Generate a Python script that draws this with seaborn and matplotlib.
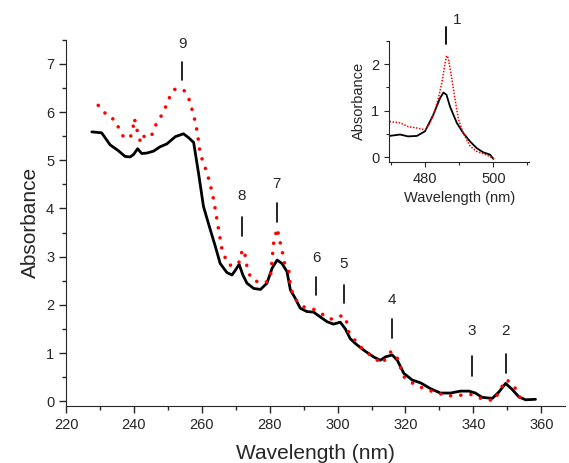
import seaborn as sns
import matplotlib.pyplot as plt
from matplotlib.ticker import MultipleLocator
import pandas as pd

# main spectrum, black (solid)
black_wl = [227.6, 230.5, 233.0, 235.4, 237.4, 238.9, 239.9, 241.1, 242.3, 243.8, 245.8, 247.7,
            249.7, 252.2, 254.6, 256.1, 257.6, 259.0, 260.5, 262.5, 264.0, 265.4, 267.4, 268.9,
            269.9, 271.0, 272.1, 273.3, 275.3, 277.3, 279.2, 280.7, 282.2, 283.6, 285.1, 286.1,
            287.5, 289.0, 291.0, 292.9, 294.9, 296.9, 298.8, 300.8, 302.3, 303.7, 305.2, 307.7,
            310.6, 312.6, 314.1, 316.1, 317.6, 319.5, 322.0, 324.5, 327.4, 330.3, 333.3, 336.2,
            338.7, 340.6, 342.6, 345.6, 347.5, 349.5, 351.5, 353.4, 355.4, 358.3]
black_abs = [5.59, 5.57, 5.32, 5.20, 5.08, 5.07, 5.12, 5.24, 5.14, 5.15, 5.19, 5.28,
             5.34, 5.49, 5.55, 5.47, 5.37, 4.75, 4.04, 3.56, 3.21, 2.86, 2.67, 2.62,
             2.72, 2.84, 2.62, 2.45, 2.34, 2.32, 2.45, 2.76, 2.93, 2.86, 2.69, 2.31,
             2.14, 1.93, 1.86, 1.85, 1.75, 1.65, 1.60, 1.64, 1.50, 1.30, 1.20, 1.06,
             0.92, 0.85, 0.92, 0.96, 0.85, 0.58, 0.44, 0.38, 0.26, 0.17, 0.17, 0.21,
             0.21, 0.17, 0.08, 0.06, 0.19, 0.37, 0.24, 0.09, 0.03, 0.04]

# main spectrum, red (dotted)
red_wl = [229.5, 231.5, 232.8, 234.3, 235.4, 236.9, 238.9, 239.7, 240.1, 240.6, 241.3, 242.1,
          243.3, 244.3, 245.3, 246.5, 247.7, 248.7, 249.7, 250.7, 251.9, 253.8, 255.1, 256.4,
          257.3, 258.1, 258.7, 259.5, 260.5, 261.5, 262.5, 263.5, 264.5, 265.2, 265.9, 266.9,
          267.9, 269.9, 271.4, 271.9, 272.6, 273.1, 273.9, 274.9, 277.3, 278.8, 280.2, 281.2,
          282.2, 282.9, 283.7, 284.4, 285.6, 286.1, 287.1, 288.5, 290.5, 292.9, 295.9, 297.9,
          300.3, 302.3, 303.3, 304.7, 306.7, 309.6, 313.1, 315.6, 317.1, 319.5, 323.0, 328.4,
          332.4, 335.3, 339.2, 342.2, 346.1, 348.1, 349.8, 352.1, 354.1, 355.9]
red_abs = [6.14, 5.98, 5.88, 5.85, 5.69, 5.49, 5.46, 5.65, 5.87, 5.75, 5.50, 5.36,
           5.54, 5.51, 5.53, 5.74, 5.88, 6.00, 6.17, 6.34, 6.47, 6.49, 6.43, 6.24,
           6.01, 5.79, 5.57, 5.15, 4.94, 4.75, 4.49, 4.18, 3.76, 3.45, 3.17, 2.98,
           2.83, 2.81, 2.92, 3.15, 3.10, 2.86, 2.65, 2.52, 2.46, 2.46, 2.55, 3.31,
           3.59, 3.35, 3.11, 2.86, 2.74, 2.38, 2.17, 2.03, 1.94, 1.91, 1.79, 1.70,
           1.77, 1.76, 1.44, 1.30, 1.13, 0.96, 0.78, 1.02, 0.99, 0.51, 0.33, 0.19,
           0.11, 0.12, 0.14, 0.06, 0.01, 0.27, 0.45, 0.30, 0.03, -0.01]

# inset spectra
inset_black_wl = [469.6, 472.7, 475.0, 477.6, 480.0, 482.4, 484.4, 485.4, 486.3, 487.3, 489.3,
                  491.2, 493.2, 495.1, 497.0, 499.0, 500.0]
inset_black_abs = [0.46, 0.49, 0.45, 0.46, 0.56, 0.91, 1.27, 1.39, 1.34, 1.09, 0.74,
                   0.52, 0.34, 0.20, 0.11, 0.06, -0.03]
inset_red_wl = [469.6, 472.7, 475.0, 477.6, 480.0, 481.5, 482.9, 483.9, 484.9, 485.7, 486.3,
                486.8, 487.8, 488.8, 489.8, 491.2, 493.2, 495.1, 497.0, 499.0, 500.5]
inset_red_abs = [0.77, 0.74, 0.66, 0.63, 0.59, 0.74, 1.02, 1.27, 1.59, 1.95, 2.18,
                 2.13, 1.70, 1.24, 0.81, 0.52, 0.24, 0.13, 0.08, 0.02, -0.05]

# peak markers: label, wavelength, bar bottom, bar top, label height
peak_labels = ['9', '8', '7', '6', '5', '4', '3', '2']
peak_wl = [254.2, 271.8, 282.1, 293.7, 301.8, 316.1, 339.5, 349.5]
peak_lo = [6.66, 3.42, 3.71, 2.20, 2.04, 1.32, 0.52, 0.59]
peak_hi = [7.05, 3.83, 4.12, 2.58, 2.41, 1.70, 0.94, 0.98]
peak_txt = [7.42, 4.26, 4.51, 2.97, 2.85, 2.10, 1.46, 1.46]

sns.set_style('ticks')
plt.rcParams['font.family'] = ['Liberation Sans', 'DejaVu Sans']
plt.rcParams['xtick.direction'] = 'out'
plt.rcParams['ytick.direction'] = 'out'

fig = plt.figure(figsize=(5.69, 4.63), dpi=100)
ax = fig.add_axes([0.116, 0.123, 0.877, 0.791])

df_black = pd.DataFrame({'wl': black_wl, 'abs': black_abs})
df_red = pd.DataFrame({'wl': red_wl, 'abs': red_abs})
sns.lineplot(data=df_black, x='wl', y='abs', ax=ax, color='black', linewidth=2.0, estimator=None)
sns.lineplot(data=df_red, x='wl', y='abs', ax=ax, color='red', linewidth=2.6,
             linestyle=(0, (0.01, 2.8)), dash_capstyle='round', estimator=None)

for lab, wl, lo, hi, ty in zip(peak_labels, peak_wl, peak_lo, peak_hi, peak_txt):
    ax.plot([wl, wl], [lo, hi], color='black', linewidth=1.2)
    ax.text(wl, ty, lab, ha='center', va='center', fontsize=11)

ax.set_xlim(220, 367)
ax.set_ylim(-0.1, 7.5)
ax.xaxis.set_major_locator(MultipleLocator(20))
ax.xaxis.set_minor_locator(MultipleLocator(10))
ax.yaxis.set_major_locator(MultipleLocator(1))
ax.yaxis.set_minor_locator(MultipleLocator(0.5))
ax.tick_params(which='major', length=5, width=1, labelsize=10.5)
ax.tick_params(which='minor', length=3, width=1)
ax.set_xlabel('Wavelength (nm)', fontsize=15, labelpad=9)
ax.set_ylabel('Absorbance', fontsize=15)
sns.despine(ax=ax)

# inset
ins = fig.add_axes([0.684, 0.650, 0.246, 0.262])
df_ib = pd.DataFrame({'wl': inset_black_wl, 'abs': inset_black_abs})
df_ir = pd.DataFrame({'wl': inset_red_wl, 'abs': inset_red_abs})
sns.lineplot(data=df_ib, x='wl', y='abs', ax=ins, color='black', linewidth=1.3, estimator=None)
sns.lineplot(data=df_ir, x='wl', y='abs', ax=ins, color='red', linewidth=1.1,
             linestyle=(0, (1, 1)), estimator=None)
ins.plot([486.2, 486.2], [2.43, 2.79], color='black', linewidth=1.3, clip_on=False)
ins.text(489.4, 2.94, '1', ha='center', va='center', fontsize=11)
ins.set_xlim(469.5, 510.5)
ins.set_ylim(-0.1, 2.5)
ins.xaxis.set_major_locator(MultipleLocator(20))
ins.xaxis.set_minor_locator(MultipleLocator(10))
ins.yaxis.set_major_locator(MultipleLocator(1))
ins.yaxis.set_minor_locator(MultipleLocator(0.5))
ins.tick_params(which='major', length=3.5, width=0.8, labelsize=10.5)
ins.tick_params(which='minor', length=2, width=0.8)
ins.set_xlabel('Wavelength (nm)', fontsize=10.5)
ins.set_ylabel('Absorbance', fontsize=10.5)
for s in ins.spines.values():
    s.set_linewidth(0.8)
sns.despine(ax=ins)

fig.savefig('out.png', dpi=100)
